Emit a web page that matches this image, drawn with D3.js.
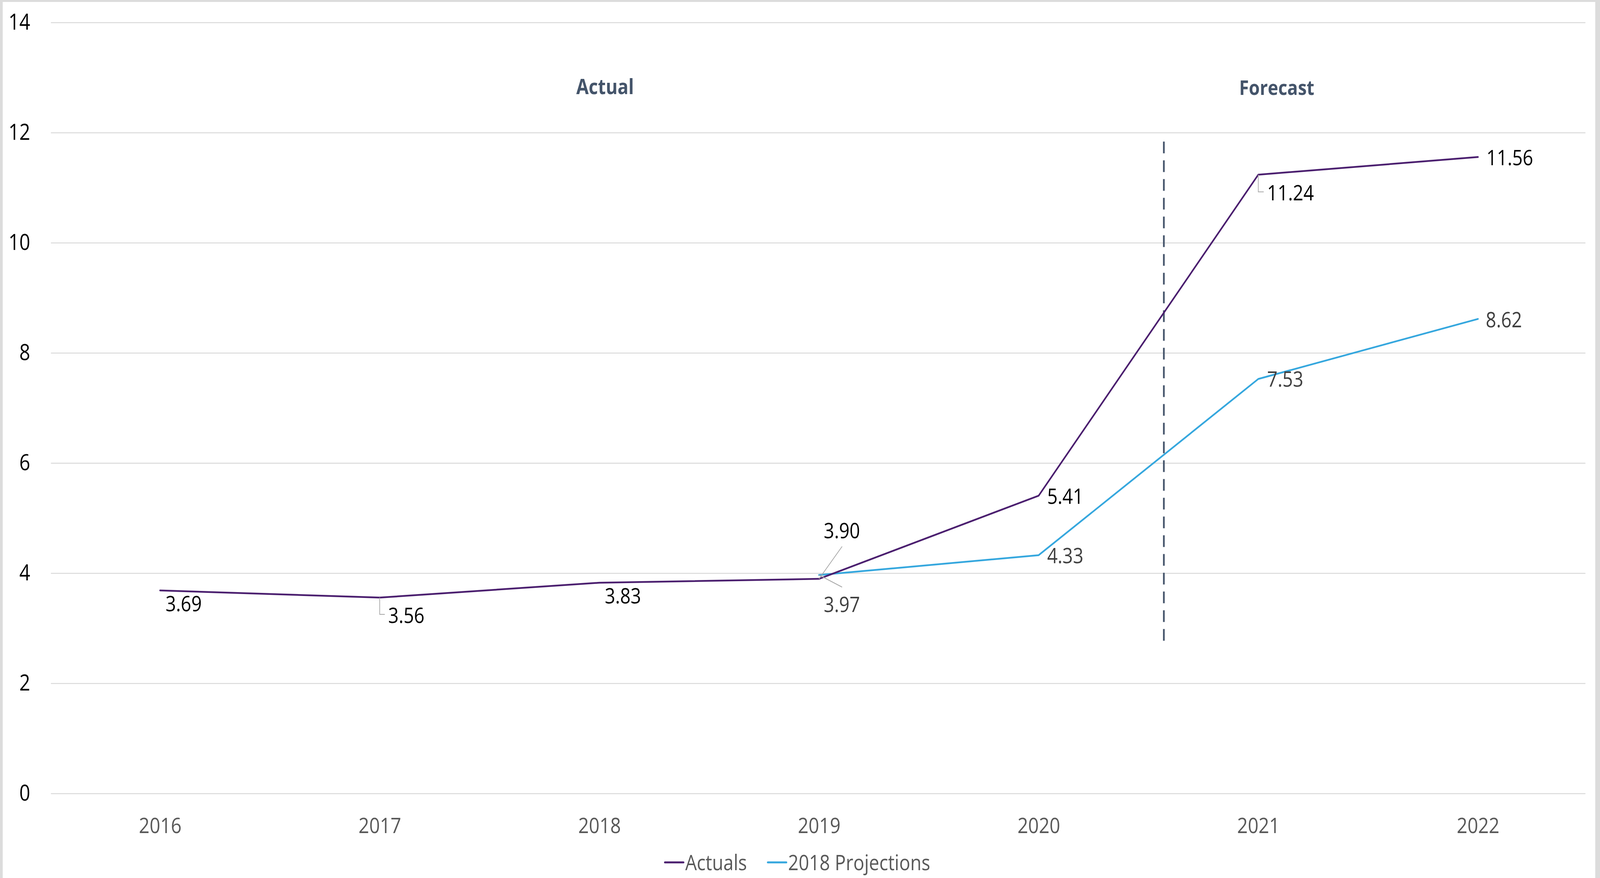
<!DOCTYPE html>
<html>
<head>
<meta charset="utf-8">
<script src="https://cdn.jsdelivr.net/npm/d3@7"></script>
<style>
  html, body { margin: 0; padding: 0; background: #dcdcdc; overflow: hidden; width: 100%; height: 100%; }
  #chart { width: 100vw; height: 100vh; }
  svg { display: block; width: 100%; height: 100%; }
  text { font-family: "Open Sans", "Noto Sans", sans-serif; }
</style>
</head>
<body>
<div id="chart"></div>
<script>
// chart data
var years = ["2016", "2017", "2018", "2019", "2020", "2021", "2022"];
var actuals = [3.69, 3.56, 3.83, 3.90, 5.41, 11.24, 11.56];
var projections = [null, null, null, 3.97, 4.33, 7.53, 8.62];
var yTicks = [0, 2, 4, 6, 8, 10, 12, 14];
var seriesNames = ["Actuals", "2018 Projections"];
var sectionNames = ["Actual", "Forecast"];

// divider between actual and forecast: between 2020 and 2021, value range
var dividerYears = ["2020", "2021"];
var dividerFraction = 0.57;
var dividerValues = [2.72, 11.84];

// label placement relative to each point: [dx, dy, leader type]
var actualOffsets = [
  [16, 53, null], [25, 65, "elbow"], [16, 53, null], [14, -104, "up"],
  [25, 21, null], [26, 66, "elbow"], [25, 21, null]
];
var projectionOffsets = [
  null, null, null, [14, 95, "down"], [25, 21, null], [26, 20, null], [23, 21, null]
];

var width = 4712, height = 2248;
var colors = { actuals: "#4b1f6f", projections: "#35a7de", section: "#44546a", grid: "#d9d9d9" };

// fixed drawing space, scaled to whatever the window is
var svg = d3.select("#chart").append("svg")
    .attr("viewBox", "0 0 " + width + " " + height)
    .attr("preserveAspectRatio", "none");

// white chart area inside the grey frame
svg.append("rect")
    .attr("x", 0).attr("y", 0)
    .attr("width", width).attr("height", height)
    .attr("fill", "#dcdcdc");
svg.append("rect")
    .attr("x", 8).attr("y", 5)
    .attr("width", 4690).attr("height", height - 5)
    .attr("fill", "#ffffff");

var x = d3.scalePoint()
    .domain(years)
    .range([148, 4676])
    .padding(0.5);

var y = d3.scaleLinear()
    .domain([0, 14])
    .range([2032, 58]);

// gridlines
svg.append("g")
  .selectAll("line")
  .data(yTicks)
  .enter()
    .append("line")
    .attr("x1", 150)
    .attr("x2", 4669)
    .attr("y1", function(d) { return y(d); })
    .attr("y2", function(d) { return y(d); })
    .attr("stroke", colors.grid)
    .attr("stroke-width", 2.5);

// y-axis labels
var yAxis = d3.axisLeft(y).tickValues(yTicks).tickSize(0).tickPadding(0);
var gy = svg.append("g")
    .attr("transform", "translate(89,0)")
    .call(yAxis);
gy.select(".domain").remove();
gy.selectAll("text")
    .attr("fill", "#000000")
    .attr("font-size", 56)
    .attr("dy", "0.32em")
    .style("font-family", "'Open Sans', sans-serif");

// x-axis labels
var xAxis = d3.axisBottom(x).tickSize(0).tickPadding(0);
var gx = svg.append("g")
    .attr("transform", "translate(0,2133)")
    .call(xAxis);
gx.select(".domain").remove();
gx.selectAll("text")
    .attr("fill", "#595959")
    .attr("font-size", 55)
    .attr("dy", 0)
    .style("font-family", "'Open Sans', sans-serif");

// divider
var dx0 = x(dividerYears[0]), dx1 = x(dividerYears[1]);
var dividerX = dx0 + (dx1 - dx0) * dividerFraction;
svg.append("line")
    .attr("x1", dividerX).attr("x2", dividerX)
    .attr("y1", y(dividerValues[1]))
    .attr("y2", y(dividerValues[0]))
    .attr("stroke", colors.section)
    .attr("stroke-width", 5)
    .attr("stroke-dasharray", "30 18");

// section titles
svg.append("text")
    .attr("x", 1782).attr("y", 241)
    .attr("text-anchor", "middle")
    .attr("font-size", 53)
    .attr("font-weight", "bold")
    .attr("fill", colors.section)
    .text(sectionNames[0]);
svg.append("text")
    .attr("x", 3760).attr("y", 243)
    .attr("text-anchor", "middle")
    .attr("font-size", 52)
    .attr("font-weight", "bold")
    .attr("fill", colors.section)
    .text(sectionNames[1]);

// lines
var line = d3.line()
    .defined(function(d) { return d.value !== null; })
    .x(function(d) { return x(d.year); })
    .y(function(d) { return y(d.value); });

function toPoints(values) {
  return years.map(function(yr, i) { return { year: yr, value: values[i] }; });
}

var actualPoints = toPoints(actuals);
var projectionPoints = toPoints(projections);

svg.append("path")
    .datum(projectionPoints)
    .attr("d", line)
    .attr("fill", "none")
    .attr("stroke", colors.projections)
    .attr("stroke-width", 4.5)
    .attr("stroke-linejoin", "round")
    .attr("stroke-linecap", "round");

svg.append("path")
    .datum(actualPoints)
    .attr("d", line)
    .attr("fill", "none")
    .attr("stroke", colors.actuals)
    .attr("stroke-width", 4.5)
    .attr("stroke-linejoin", "round")
    .attr("stroke-linecap", "round");

// data labels with leader lines
function drawLabels(points, offsets, fill) {
  var g = svg.append("g");
  points.forEach(function(d, i) {
    if (d.value === null || !offsets[i]) return;
    var px = x(d.year), py = y(d.value);
    var o = offsets[i];
    var lx = px + o[0], ly = py + o[1];
    if (o[2] === "elbow") {
      g.append("path")
          .attr("d", "M" + px + "," + py + "V" + (ly - 22) + "H" + (lx - 10))
          .attr("fill", "none")
          .attr("stroke", "#a6a6a6")
          .attr("stroke-width", 2);
    } else if (o[2] === "up") {
      g.append("line")
          .attr("x1", px).attr("y1", py)
          .attr("x2", px + 68).attr("y2", ly + 21)
          .attr("stroke", "#a6a6a6").attr("stroke-width", 2);
    } else if (o[2] === "down") {
      g.append("line")
          .attr("x1", px).attr("y1", py)
          .attr("x2", px + 68).attr("y2", ly - 64)
          .attr("stroke", "#a6a6a6").attr("stroke-width", 2);
    }
    g.append("text")
        .attr("x", lx).attr("y", ly)
        .attr("font-size", 54)
        .attr("fill", fill)
        .text(d3.format(".2f")(d.value));
  });
}

drawLabels(actualPoints, actualOffsets, "#000000");
drawLabels(projectionPoints, projectionOffsets, "#404040");

// legend
var legend = svg.append("g").attr("transform", "translate(0,2208)");
var legendItems = [
  { name: seriesNames[0], color: colors.actuals, x: 1958 },
  { name: seriesNames[1], color: colors.projections, x: 2261 }
];
legendItems.forEach(function(item) {
  legend.append("line")
      .attr("x1", item.x).attr("x2", item.x + 55)
      .attr("y1", 0).attr("y2", 0)
      .attr("stroke", item.color)
      .attr("stroke-width", 5)
      .attr("stroke-linecap", "round");
  legend.append("text")
      .attr("x", item.x + 60)
      .attr("y", 20)
      .attr("font-size", 54)
      .attr("fill", "#595959")
      .text(item.name);
});
</script>
</body>
</html>
